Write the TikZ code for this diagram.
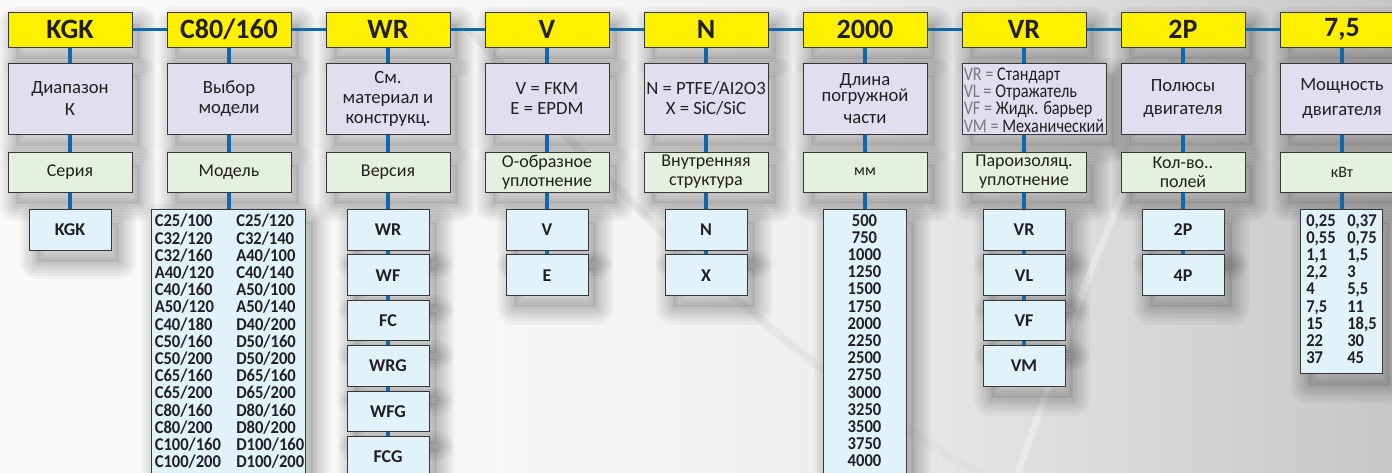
\documentclass[tikz,border=0pt]{standalone}
\usepackage{fontspec}
\setmainfont{Carlito}
\newfontfamily\condfont[FakeStretch=0.92]{Carlito}
\newfontfamily\vrfont[FakeStretch=0.84]{Carlito}
\definecolor{hdry}{RGB}{255,240,0}
\definecolor{purp}{RGB}{224,222,239}
\definecolor{grn}{RGB}{229,240,222}
\definecolor{lblue}{RGB}{224,242,250}
\definecolor{connc}{RGB}{16,104,170}
\definecolor{bord}{RGB}{55,55,55}
\definecolor{txt}{RGB}{35,31,32}
\definecolor{lgt}{RGB}{120,120,120}
\pgfdeclarehorizontalshading{bgshade}{100bp}{color(0bp)=(white!98!black); color(25bp)=(white!98!black); color(47bp)=(white!96!black); color(55bp)=(white!93!black); color(64bp)=(white!86!black); color(75bp)=(white!78!black); color(100bp)=(white!78!black)}
\tikzset{
  shl/.style={preaction={draw=black, line width=#1, line join=round, draw opacity=0.035, transform canvas={xshift=6pt, yshift=-9pt}}},
  shad/.style={shl=26pt, shl=21pt, shl=16pt, shl=12pt, shl=8pt, shl=4pt,
    preaction={fill=black, fill opacity=0.08, transform canvas={xshift=6pt, yshift=-9pt}}},
  boxbase/.style={shad, draw=bord, line width=0.75pt, inner sep=0pt, text=txt, align=center},
  hdr/.style={boxbase, fill=hdry, minimum width=93pt, minimum height=26.25pt, font=\fontsize{21}{22}\selectfont\bfseries},
  pbox/.style={boxbase, fill=purp, minimum width=93pt, minimum height=53.25pt, font=\fontsize{14}{15}\selectfont},
  gbox/.style={boxbase, fill=grn, minimum width=93pt, minimum height=30pt, font=\fontsize{13.5}{14.25}\selectfont},
  bbox/.style={boxbase, fill=lblue, minimum width=61.5pt, minimum height=30.4pt, anchor=north, font=\fontsize{13.5}{14}\selectfont\bfseries},
  lbox/.style={boxbase, fill=lblue, anchor=north},
  ltext/.style={inner sep=0pt, text=txt, font=\condfont\fontsize{13.5}{12.9}\selectfont\bfseries},
  conn/.style={draw=connc, line width=2.5pt},
}
\begin{document}
\begin{tikzpicture}[x=0.75pt,y=-0.75pt]
\useasboundingbox (0,0) rectangle (1392,472);
\clip (0,0) rectangle (1392,472);
% background
\shade[shading=bgshade] (0,0) rectangle (1392,472);
\draw[line width=6pt, white!86!black, opacity=0.45] (470,30) .. controls (620,200) and (780,360) .. (990,480);
\draw[line width=5pt, white, opacity=0.35] (1125,190) .. controls (1075,300) and (1045,400) .. (1015,480);
\draw[line width=8pt, white, opacity=0.25] (500,190) -- (500,480);

% header boxes
\node[hdr] (h0) at (70,29.5) {KGK};
\node[hdr] (h1) at (229,29.5) {C80/160};
\node[hdr] (h2) at (388,29.5) {WR};
\node[hdr] (h3) at (547,29.5) {V};
\node[hdr] (h4) at (706,29.5) {N};
\node[hdr] (h5) at (865,29.5) {2000};
\node[hdr] (h6) at (1024,29.5) {VR};
\node[hdr] (h7) at (1183,29.5) {2P};
\node[hdr] (h8) at (1342,29.5) {7,5};

% description boxes
\node[pbox] (p0) at (70,98.5) {Диапазон\\[2pt]К};
\node[pbox] (p1) at (229,98.5) {Выбор\\модели};
\node[pbox] (p2) at (388,98.5) {См.\\материал и\\конструкц.};
\node[pbox] (p3) at (547,98.5) {V = FKM\\E = EPDM};
\node[pbox] (p4) at (706,98.5) {N = PTFE/AI2O3\\X = SiC/SiC};
\node[pbox] (p5) at (865,98.5) {Длина\\[-3pt]погружной\\[1pt]части};
\node[pbox, minimum width=108pt] (p6) at (1034,98.5) {};
\node[anchor=west, inner sep=0pt, align=left, text=txt, font=\vrfont\fontsize{14.5}{11.7}\selectfont] (p6t) at (963.5,100)
  {\textcolor{lgt}{VR =} Стандарт\\\textcolor{lgt}{VL =} Отражатель\\\textcolor{lgt}{VF =} Жидк. барьер\\\textcolor{lgt}{VM =} Механический};
\node[pbox] (p7) at (1183,98.5) {Полюсы\\[2pt]двигателя};
\node[pbox] (p8) at (1342,98.5) {Мощность\\[4pt]двигателя};

% unit boxes
\node[gbox] (g0) at (70,172) {Серия};
\node[gbox] (g1) at (229,172) {Модель};
\node[gbox] (g2) at (388,172) {Версия};
\node[gbox] (g3) at (547,172) {О-образное\\уплотнение};
\node[gbox] (g4) at (706,172) {Внутренняя\\структура};
\node[gbox, font=\fontsize{12}{13}\selectfont] (g5) at (865,172) {мм};
\node[gbox] (g6) at (1024,172) {Пароизоляц.\\уплотнение};
\node[gbox] (g7) at (1183,172) {Кол-во..\\полей};
\node[gbox, font=\fontsize{12}{13}\selectfont] (g8) at (1342,172) {кВт};

% option boxes
\node[bbox] (b0a) at (70,209) {KGK};

\node[lbox, minimum width=115.5pt, minimum height=203pt] (b1) at (228,209) {};
\node[ltext, anchor=north west, align=left] (b1l) at (154.5,214)
  {C25/100\\C32/120\\C32/160\\A40/120\\C40/160\\A50/120\\C40/180\\C50/160\\C50/200\\C65/160\\C65/200\\C80/160\\C80/200\\C100/160\\C100/200};
\node[ltext, anchor=north west, align=left] (b1r) at (236,214)
  {C25/120\\C32/140\\A40/100\\C40/140\\A50/100\\A50/140\\D40/200\\D50/160\\D50/200\\D65/160\\D65/200\\D80/160\\D80/200\\D100/160\\D100/200};

\node[bbox] (b2a) at (388,209) {WR};
\node[bbox] (b2b) at (388,254.4) {WF};
\node[bbox] (b2c) at (388,299.8) {FC};
\node[bbox] (b2d) at (388,345.2) {WRG};
\node[bbox] (b2e) at (388,390.6) {WFG};
\node[bbox] (b2f) at (388,436) {FCG};

\node[bbox] (b3a) at (547,209) {V};
\node[bbox] (b3b) at (547,254.4) {E};

\node[bbox] (b4a) at (706,209) {N};
\node[bbox] (b4b) at (706,254.4) {X};

\node[lbox, minimum width=62.25pt, minimum height=203pt] (b5) at (864.5,209) {};
\node[ltext, anchor=north, align=center] (b5t) at (864.5,214)
  {500\\750\\1000\\1250\\1500\\1750\\2000\\2250\\2500\\2750\\3000\\3250\\3500\\3750\\4000};

\node[bbox] (b6a) at (1024,209) {VR};
\node[bbox] (b6b) at (1024,254.4) {VL};
\node[bbox] (b6c) at (1024,299.8) {VF};
\node[bbox] (b6d) at (1024,345.2) {VM};

\node[bbox] (b7a) at (1183,209) {2P};
\node[bbox] (b7b) at (1183,254.4) {4P};

\node[lbox, minimum width=61.5pt, minimum height=123pt] (b8) at (1341,209) {};
\node[ltext, anchor=north west, align=left] (b8l) at (1306,214)
  {0,25\\0,55\\1,1\\2,2\\4\\7,5\\15\\22\\37};
\node[ltext, anchor=north west, align=left] (b8r) at (1347,214)
  {0,37\\0,75\\1,5\\3\\5,5\\11\\18,5\\30\\45};

% connectors
\draw[conn] (h0.east) -- (h1.west);
\draw[conn] (h1.east) -- (h2.west);
\draw[conn] (h2.east) -- (h3.west);
\draw[conn] (h3.east) -- (h4.west);
\draw[conn] (h4.east) -- (h5.west);
\draw[conn] (h5.east) -- (h6.west);
\draw[conn] (h6.east) -- (h7.west);
\draw[conn] (h7.east) -- (h8.west);
\foreach \i in {0,1,2,3,4,5,7,8}{
  \draw[conn] (h\i.south) -- (p\i.north);
  \draw[conn] (p\i.south) -- (g\i.north);
}
\draw[conn] (h6.south) -- (h6.south |- p6.north);
\draw[conn] (g6.north |- p6.south) -- (g6.north);

\draw[conn] (g0.south) -- (b0a.north);
\draw[conn] (g1.south) -- (g1.south |- b1.north);
\draw[conn] (g2.south) -- (b2a.north);
\draw[conn] (b2a.south) -- (b2b.north);
\draw[conn] (b2b.south) -- (b2c.north);
\draw[conn] (b2c.south) -- (b2d.north);
\draw[conn] (b2d.south) -- (b2e.north);
\draw[conn] (b2e.south) -- (b2f.north);
\draw[conn] (g3.south) -- (b3a.north);
\draw[conn] (b3a.south) -- (b3b.north);
\draw[conn] (g4.south) -- (b4a.north);
\draw[conn] (b4a.south) -- (b4b.north);
\draw[conn] (g5.south) -- (g5.south |- b5.north);
\draw[conn] (g6.south) -- (b6a.north);
\draw[conn] (b6a.south) -- (b6b.north);
\draw[conn] (b6b.south) -- (b6c.north);
\draw[conn] (b6c.south) -- (b6d.north);
\draw[conn] (g7.south) -- (b7a.north);
\draw[conn] (b7a.south) -- (b7b.north);
\draw[conn] (g8.south) -- (g8.south |- b8.north);
\end{tikzpicture}
\end{document}
